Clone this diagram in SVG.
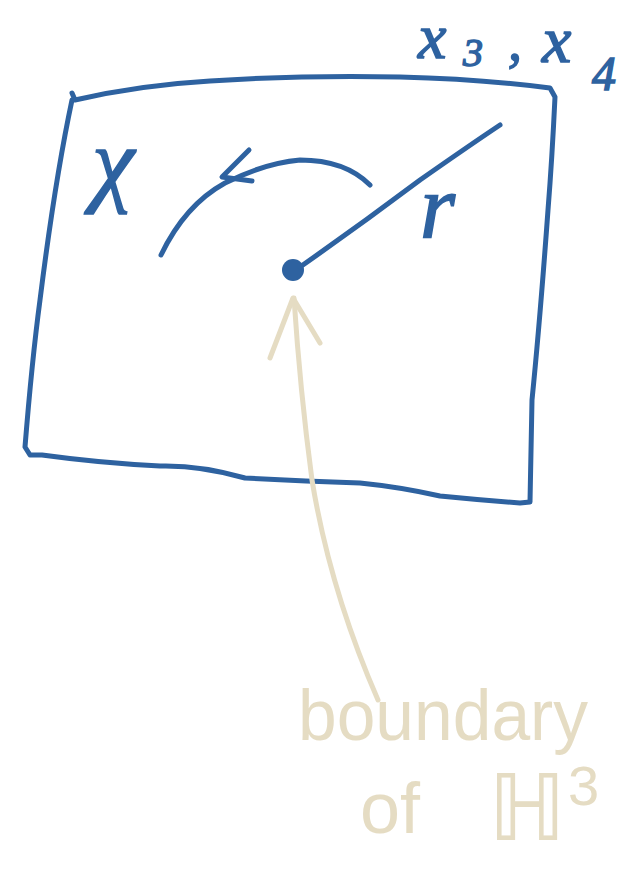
<svg xmlns="http://www.w3.org/2000/svg" width="641" height="890" viewBox="0 0 641 890">
<style>
.b{fill:none;stroke:#2e62a0;stroke-width:5;stroke-linecap:round;stroke-linejoin:round}
.t{fill:none;stroke:#e5dcc3;stroke-width:5;stroke-linecap:round;stroke-linejoin:round}
.m{fill:#2e62a0;stroke:#2e62a0;stroke-width:1.5;font-family:"Liberation Serif","DejaVu Serif",serif;font-style:italic}
.g{fill:#e5dcc3;font-family:"Liberation Sans","DejaVu Sans",sans-serif}
</style>
<rect width="641" height="890" fill="#fff"/>
<g id="square">
<path class="b" d="M72,93 L75,100 Q140,85 210,81 Q300,75 400,77 Q480,79 550,88 L555,97 Q552,160 548,210 Q540,320 532,400 L530,502 L520,503 Q480,500 440,496 Q400,487 360,483 Q300,481 245,478 Q200,465 160,466 Q100,463 42,455 L30,455 L25,447 Q32,360 40,300 Q55,180 72,100"/>
</g>
<g id="angle">
<path class="b" d="M161,255 Q185,205 225,183 Q265,163 300,160 Q345,160 370,185"/>
<path class="b" d="M249,150 L222,177 L252,181"/>
</g>
<g id="point">
<circle cx="293" cy="270" r="11" fill="#2e62a0"/>
</g>
<g id="radius">
<path class="b" d="M300,267 Q360,225 420,180 Q470,145 500,125"/>
</g>
<g id="labels">
<text class="m" x="92" y="194" font-size="96">χ</text>
<text class="m" x="420" y="237" font-size="90">r</text>
<text class="m" x="418" y="58" font-size="64">x</text>
<text class="m" x="463" y="66" font-size="40">3</text>
<text class="m" x="508" y="60" font-size="56">,</text>
<text class="m" x="542" y="62" font-size="66">x</text>
<text class="m" x="592" y="90" font-size="48">4</text>
</g>
<g id="connectors">
<path class="t" d="M378,700 Q330,590 312,480 Q300,390 294,298"/>
<path class="t" d="M270,358 L293,298 L320,343"/>
</g>
<g id="caption">
<text class="g" x="298" y="740" font-size="72" textLength="290" lengthAdjust="spacingAndGlyphs">boundary</text>
<text class="g" x="360" y="833" font-size="72">of</text>
<text class="g" x="488" y="840" font-size="92">ℍ</text>
<text class="g" x="568" y="805" font-size="56">3</text>
</g>
</svg>
